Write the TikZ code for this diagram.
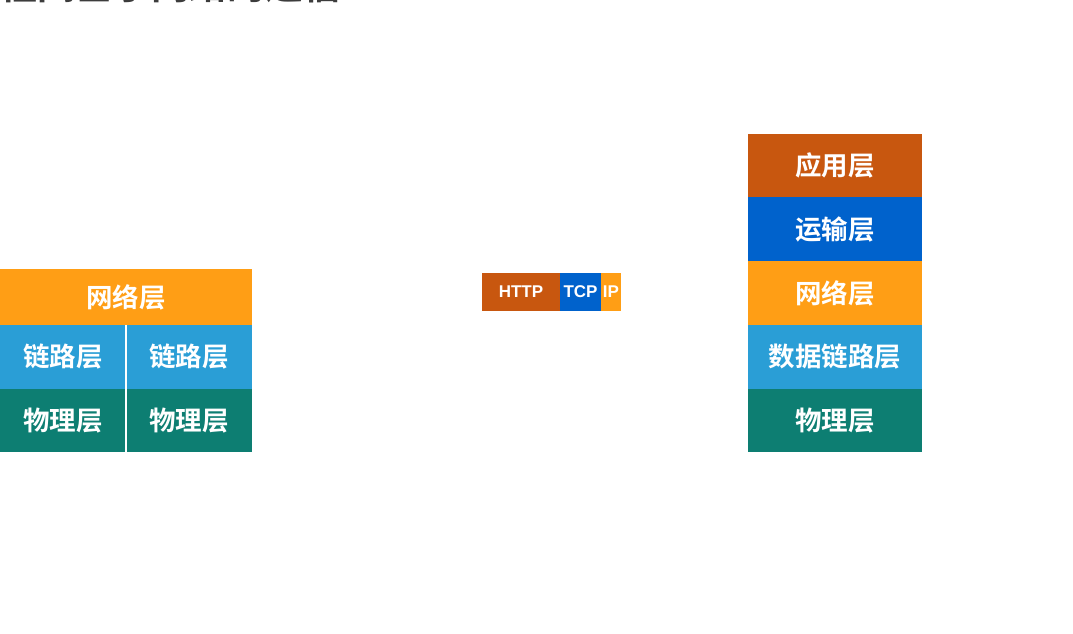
\documentclass[tikz,border=0pt]{standalone}
\usepackage{fontspec}
\newfontfamily\cjkb{Noto Sans CJK SC Bold}
\setsansfont{Liberation Sans}
\definecolor{appc}{HTML}{C8570F}
\definecolor{tranc}{HTML}{0062CC}
\definecolor{netc}{HTML}{FF9E15}
\definecolor{linkc}{HTML}{2A9ED6}
\definecolor{physc}{HTML}{0D7E72}
\definecolor{titlec}{HTML}{3C3C3C}
\tikzset{
  layer/.style={anchor=north west, inner sep=0pt, outer sep=0pt, text=white,
    font=\cjkb\fontsize{26.5}{26.5}\selectfont},
  pkt/.style={anchor=north west, inner sep=0pt, outer sep=0pt, text=white,
    minimum height=38pt, font=\sffamily\bfseries\fontsize{17}{17}\selectfont},
}
\begin{document}
\begin{tikzpicture}[x=1pt,y=-1pt]
\useasboundingbox (0,0) rectangle (1073,633);
\clip (0,0) rectangle (1073,633);
\fill[white] (0,0) rectangle (1073,633);
% title (cut off at top)
\node[anchor=base west, inner sep=0pt, text=titlec, font=\cjkb\fontsize{38}{38}\selectfont] (title) at (-39,-1) {进程间基于网络的通信};
% left stack
\node[layer, fill=netc, minimum width=252pt, minimum height=56pt] (lnet) at (0,269) {网络层};
\node[layer, fill=linkc, minimum width=126pt, minimum height=64pt] (llink1) at (0,325) {链路层};
\node[layer, fill=linkc, minimum width=126pt, minimum height=64pt] (llink2) at (126,325) {链路层};
\node[layer, fill=physc, minimum width=126pt, minimum height=63pt] (lphy1) at (0,389) {物理层};
\node[layer, fill=physc, minimum width=126pt, minimum height=63pt] (lphy2) at (126,389) {物理层};
\draw[white, line width=1.6pt] (llink1.north east) -- (lphy1.south east);
% packet
\node[pkt, fill=appc, minimum width=78pt] (http) at (482,273) {HTTP};
\node[pkt, fill=tranc, minimum width=41pt] (tcp) at (560,273) {TCP};
\node[pkt, fill=netc, minimum width=20pt] (ip) at (601,273) {IP};
% right stack
\node[layer, fill=appc, minimum width=174pt, minimum height=63pt] (rapp) at (748,134) {应用层};
\node[layer, fill=tranc, minimum width=174pt, minimum height=64pt] (rtran) at (748,197) {运输层};
\node[layer, fill=netc, minimum width=174pt, minimum height=64pt] (rnet) at (748,261) {网络层};
\node[layer, fill=linkc, minimum width=174pt, minimum height=64pt] (rlink) at (748,325) {数据链路层};
\node[layer, fill=physc, minimum width=174pt, minimum height=63pt] (rphy) at (748,389) {物理层};
\end{tikzpicture}
\end{document}
